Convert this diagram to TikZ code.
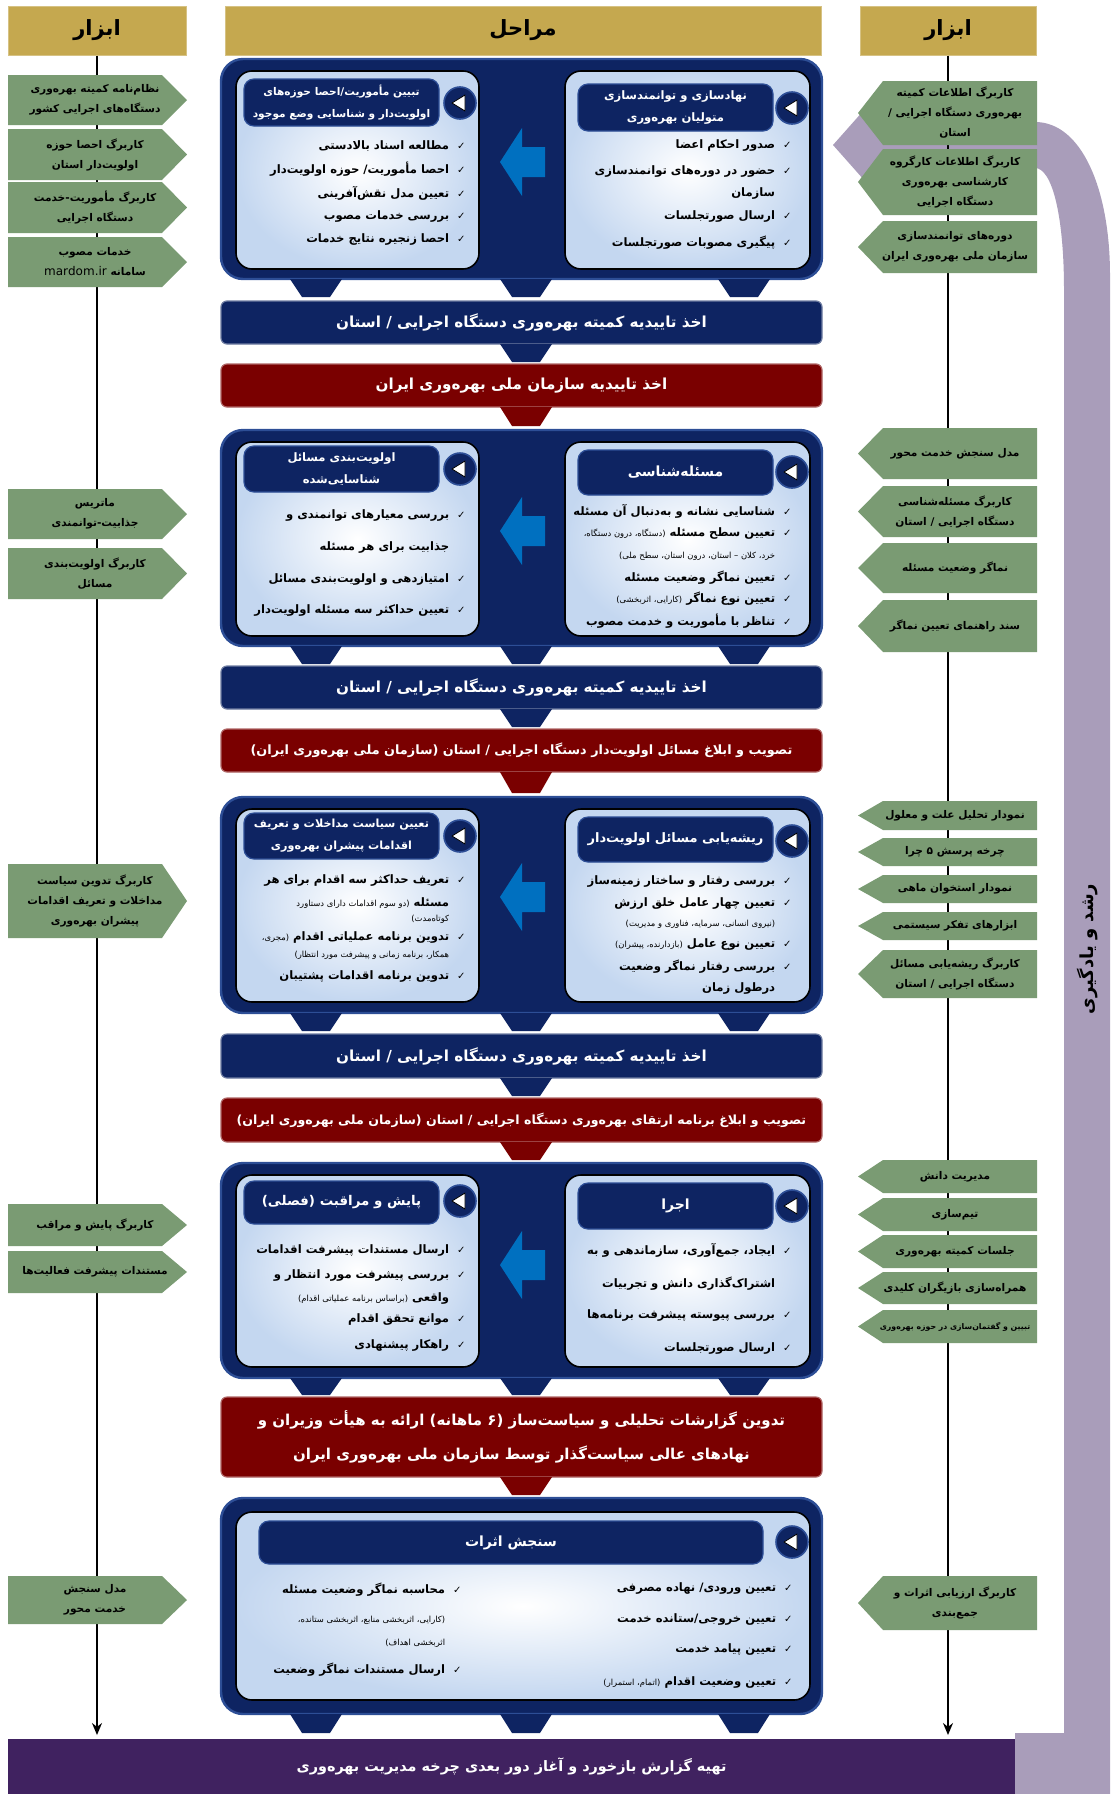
\documentclass[tikz,border=0pt]{standalone}
\usepackage{fontspec}
\usetikzlibrary{calc,arrows.meta}
\newfontfamily\arabicfont[Script=Arabic]{DejaVu Sans}
\TeXXeTstate=1
\definecolor{cGold}{RGB}{197,168,79}
\definecolor{cSage}{RGB}{122,155,115}
\definecolor{cNavy}{RGB}{14,36,98}
\definecolor{cRim}{RGB}{45,78,150}
\definecolor{cRed}{RGB}{122,0,0}
\definecolor{cBlue}{RGB}{0,112,192}
\definecolor{cLBlue}{RGB}{196,215,240}
\definecolor{cLPurple}{RGB}{169,157,186}
\definecolor{cDPurple}{RGB}{64,34,96}
\newcommand\fa[1]{\beginR#1\endR}
\newcommand\chk{{\mdseries\fontsize{5}{6}\selectfont ✓}\ \ }
\newcommand\ind{\hphantom{\chk}}
\newcommand\sm[1]{{\mdseries\fontsize{4.2}{5}\selectfont #1}}
\newcommand\itm[4]{\node[item] (#1) at (#2,#3) {#4};}
\newcommand\toolL[4]{\fill[cSage] (8,#2) -- (162,#2) -- (187,{(#2+#3)/2}) -- (162,#3) -- (8,#3) -- cycle;
  \node[tooltxt] (#1) at (95,{(#2+#3)/2}) {#4};}
\newcommand\toolR[4]{\fill[cSage] (1037,#2) -- (883,#2) -- (858,{(#2+#3)/2}) -- (883,#3) -- (1037,#3) -- cycle;
  \node[tooltxt] (#1) at (955,{(#2+#3)/2}) {#4};}
\newcommand\stageblk[3]{\draw[cRim, line width=1.2pt, fill=cNavy, rounded corners=11pt] (221,#2) rectangle (822,#3);
  \coordinate (#1) at (521.5,#2);}
\newcommand\ibox[4]{\shade[draw=black, line width=0.8pt, rounded corners=8pt, inner color=white, outer color=cLBlue] (#1,#2) rectangle (#3,#4);}
\newcommand\tbox[7]{\draw[fill=cNavy, draw=cRim, line width=0.6pt, rounded corners=5pt] (#2,#3) rectangle (#4,#5);
  \node[ttl, font=\arabicfont\bfseries\fontsize{#6}{11}\selectfont] (#1) at ({(#2+#4)/2},{(#3+#5)/2}) {#7};}
\newcommand\pbtn[3]{\node[circle, fill=cNavy, draw=cRim, line width=0.8pt, minimum size=16pt, inner sep=0pt] (#1) at (#2,#3) {};
  \draw[fill=white, draw=black, line width=0.4pt, line join=round] ($(#1)+(-8,0)$) -- ($(#1)+(5,-8)$) -- ($(#1)+(5,8)$) -- cycle;}
\newcommand\barr[6]{\draw[fill=#4, draw=#4!60!white, line width=0.6pt, rounded corners=3pt] (221,#2) rectangle (822,#3);
  \node[bartxt, font=\arabicfont\bfseries\fontsize{#5}{17}\selectfont] (#1) at (521.5,{(#2+#3)/2}) {#6};}
\newcommand\tabd[4]{\fill[#4] ({#1-26},#2) -- ({#1+26},#2) -- ({#1+14},#3) -- ({#1-14},#3) -- cycle;}
\newcommand\barrow[1]{\fill[cBlue] (500,#1) -- (522,{#1-34}) -- (522,{#1-15}) -- (545,{#1-15}) -- (545,{#1+15}) -- (522,{#1+15}) -- (522,{#1+34}) -- cycle;}
\begin{document}
\begin{tikzpicture}[x=0.5pt,y=-0.5pt,
  tooltxt/.style={font=\arabicfont\bfseries\fontsize{5.3}{10}\selectfont, align=center, inner sep=0pt, text=black},
  item/.style={font=\arabicfont\bfseries\fontsize{5.8}{7}\selectfont, anchor=east, inner sep=0pt, text=black},
  ttl/.style={text=white, align=center, inner sep=0pt},
  bartxt/.style={text=white, align=center, inner sep=0pt},
  hdr/.style={fill=cGold, draw=cGold!70!white, line width=0.5pt, minimum height=24.5pt, inner sep=0pt, font=\arabicfont\bfseries\fontsize{10.5}{12}\selectfont, text=black},
  growtxt/.style={rotate=90, font=\arabicfont\bfseries\fontsize{9}{10}\selectfont, text=black, inner sep=0pt}]
\useasboundingbox (0,0) rectangle (1113,1794);
% learning band
\fill[cLPurple] (833,145) -- (872,101) -- (872,122) -- (1035,122) .. controls (1082,122) and (1110,190) .. (1110,275) -- (1110,1794) -- (1015,1794) -- (1015,1733) -- (1064,1733) -- (1064,290) .. controls (1064,215) and (1052,168) .. (1035,168) -- (872,168) -- (872,189) -- cycle;
\node[growtxt] (grow) at (1087,949) {\fa{رشد و یادگیری}};
% headers
\node[hdr, minimum width=89pt] (hL) at (97,30.5) {\fa{ابزار}};
\node[hdr, minimum width=298pt] (hC) at (523,30.5) {\fa{مراحل}};
\node[hdr, minimum width=88pt] (hR) at (948,30.5) {\fa{ابزار}};
\coordinate (eL) at (97,1735);
\coordinate (eR) at (948,1735);
\draw[line width=0.8pt, -{Stealth[length=6pt,width=5pt]}] (hL.south) -- (eL);
\draw[line width=0.8pt, -{Stealth[length=6pt,width=5pt]}] (hR.south) -- (eR);
% left tools
\toolL{L1}{75}{125}{\fa{نظام‌نامه کمیته بهره‌وری}\\\fa{دستگاه‌های اجرایی کشور}}
\toolL{L2}{129}{180}{\fa{کاربرگ احصا حوزه}\\\fa{اولویت‌دار استان}}
\toolL{L3}{182}{233}{\fa{کاربرگ مأموریت-خدمت}\\\fa{دستگاه اجرایی}}
\toolL{L4}{237}{287}{\fa{خدمات مصوب}\\\fa{سامانه\ \beginL{\mdseries\fontsize{6}{7}\selectfont mardom.ir}\endL}}
\toolL{L5}{489}{539}{\fa{ماتریس}\\\fa{جذابیت-توانمندی}}
\toolL{L6}{548}{599}{\fa{کاربرگ اولویت‌بندی}\\\fa{مسائل}}
\toolL{L7}{864}{938}{\fa{کاربرگ تدوین سیاست}\\\fa{مداخلات و تعریف اقدامات}\\\fa{پیشران بهره‌وری}}
\toolL{L8}{1204}{1246}{\fa{کاربرگ پایش و مراقب}}
\toolL{L9}{1251}{1293}{\fa{مستندات پیشرفت فعالیت‌ها}}
\toolL{L10}{1576}{1624}{\fa{مدل سنجش}\\\fa{خدمت محور}}
% right tools
\toolR{R1}{81}{145}{\fa{کاربرگ اطلاعات کمیته}\\\fa{بهره‌وری دستگاه اجرایی /}\\\fa{استان}}
\toolR{R2}{149}{215}{\fa{کاربرگ اطلاعات کارگروه}\\\fa{کارشناسی بهره‌وری}\\\fa{دستگاه اجرایی}}
\toolR{R3}{221}{273}{\fa{دوره‌های توانمندسازی}\\\fa{سازمان ملی بهره‌وری ایران}}
\toolR{R4}{428}{479}{\fa{مدل سنجش خدمت محور}}
\toolR{R5}{486}{537}{\fa{کاربرگ مسئله‌شناسی}\\\fa{دستگاه اجرایی / استان}}
\toolR{R6}{543}{593}{\fa{نماگر وضعیت مسئله}}
\toolR{R7}{600}{652}{\fa{سند راهنمای تعیین نماگر}}
\toolR{R8}{801}{830}{\fa{نمودار تحلیل علت و معلول}}
\toolR{R9}{838}{866}{\fa{چرخه پرسش ۵ چرا}}
\toolR{R10}{875}{903}{\fa{نمودار استخوان ماهی}}
\toolR{R11}{912}{940}{\fa{ابزارهای تفکر سیستمی}}
\toolR{R12}{950}{998}{\fa{کاربرگ ریشه‌یابی مسائل}\\\fa{دستگاه اجرایی / استان}}
\toolR{R13}{1160}{1193}{\fa{مدیریت دانش}}
\toolR{R14}{1198}{1231}{\fa{تیم‌سازی}}
\toolR{R15}{1235}{1268}{\fa{جلسات کمیته بهره‌وری}}
\toolR{R16}{1272}{1304}{\fa{همراه‌سازی بازیگران کلیدی}}
\toolR{R17}{1310}{1343}{\fontsize{3.9}{6}\selectfont\fa{تبیین و گفتمان‌سازی در حوزه بهره‌وری}}
\toolR{R18}{1576}{1630}{\fa{کاربرگ ارزیابی اثرات و}\\\fa{جمع‌بندی}}
% ===== stage 1
\stageblk{S1}{59}{279}
\ibox{565}{71}{810}{269}
\ibox{236}{71}{479}{269}
\tbox{T1r}{578}{84}{773}{131}{5.8}{\fa{نهادسازی و توانمندسازی}\\\fa{متولیان بهره‌وری}}
\pbtn{P1r}{792}{108}
\tbox{T1l}{244}{79}{439}{126}{5.3}{\fa{تبیین مأموریت/احصا حوزه‌های}\\\fa{اولویت‌دار و شناسایی وضع موجود}}
\pbtn{P1l}{460}{103}
\barrow{162}
\itm{a1}{792}{146}{\fa{\chk صدور احکام اعضا}}
\itm{a2}{792}{172}{\fa{\chk حضور در دوره‌های توانمندسازی}}
\itm{a3}{792}{194}{\fa{\ind سازمان}}
\itm{a4}{792}{217}{\fa{\chk ارسال صورتجلسات}}
\itm{a5}{792}{243}{\fa{\chk پیگیری مصوبات صورتجلسات}}
\itm{b1}{466}{146}{\fa{\chk مطالعه اسناد بالادستی}}
\itm{b2}{466}{169}{\fa{\chk احصا مأموریت/ حوزه اولویت‌دار}}
\itm{b3}{466}{193}{\fa{\chk تعیین مدل نقش‌آفرینی}}
\itm{b4}{466}{217}{\fa{\chk بررسی خدمات مصوب}}
\itm{b5}{466}{240}{\fa{\chk احصا زنجیره نتایج خدمات}}
\tabd{316}{279}{297}{cNavy}\tabd{526}{279}{297}{cNavy}\tabd{744}{279}{297}{cNavy}
\barr{B1}{301}{344}{cNavy}{7.6}{\fa{اخذ تاییدیه کمیته بهره‌وری دستگاه اجرایی / استان}}
\tabd{526}{344}{362}{cNavy}
\barr{B2}{364}{407}{cRed}{7.6}{\fa{اخذ تاییدیه سازمان ملی بهره‌وری ایران}}
\tabd{526}{407}{426}{cRed}
% ===== stage 2
\stageblk{S2}{430}{646}
\ibox{565}{442}{810}{636}
\ibox{236}{442}{479}{636}
\tbox{T2r}{578}{450}{773}{495}{7}{\fa{مسئله‌شناسی}}
\pbtn{P2r}{792}{472}
\tbox{T2l}{244}{446}{439}{492}{5.8}{\fa{اولویت‌بندی مسائل}\\\fa{شناسایی‌شده}}
\pbtn{P2l}{460}{469}
\barrow{531}
\itm{c1}{792}{511}{\fa{\chk شناسایی نشانه و به‌دنبال آن مسئله}}
\itm{c2}{792}{534}{\fa{\chk تعیین سطح مسئله \sm{(دستگاه، درون دستگاه،}}}
\itm{c3}{792}{556}{\fa{\ind\sm{خرد، کلان – استان، درون استان، سطح ملی)}}}
\itm{c4}{792}{578}{\fa{\chk تعیین نماگر وضعیت مسئله}}
\itm{c5}{792}{599}{\fa{\chk تعیین نوع نماگر \sm{(کارایی، اثربخشی)}}}
\itm{c6}{792}{621}{\fa{\chk تناظر با مأموریت و خدمت مصوب}}
\itm{d1}{466}{516}{\fa{\chk بررسی معیارهای توانمندی و}}
\itm{d2}{466}{548}{\fa{\ind جذابیت برای هر مسئله}}
\itm{d3}{466}{580}{\fa{\chk امتیازدهی و اولویت‌بندی مسائل}}
\itm{d4}{466}{611}{\fa{\chk تعیین حداکثر سه مسئله اولویت‌دار}}
\tabd{316}{646}{664}{cNavy}\tabd{526}{646}{664}{cNavy}\tabd{744}{646}{664}{cNavy}
\barr{B3}{666}{709}{cNavy}{7.6}{\fa{اخذ تاییدیه کمیته بهره‌وری دستگاه اجرایی / استان}}
\tabd{526}{709}{727}{cNavy}
\barr{B4}{729}{772}{cRed}{6.4}{\fa{تصویب و ابلاغ مسائل اولویت‌دار دستگاه اجرایی / استان (سازمان ملی بهره‌وری ایران)}}
\tabd{526}{772}{793}{cRed}
% ===== stage 3
\stageblk{S3}{797}{1013}
\ibox{565}{809}{810}{1002}
\ibox{236}{809}{479}{1002}
\tbox{T3r}{578}{817}{773}{862}{6.5}{\fa{ریشه‌یابی مسائل اولویت‌دار}}
\pbtn{P3r}{792}{841}
\tbox{T3l}{244}{813}{439}{859}{5.6}{\fa{تعیین سیاست مداخلات و تعریف}\\\fa{اقدامات پیشران بهره‌وری}}
\pbtn{P3l}{460}{836}
\barrow{897}
\itm{e1}{792}{881}{\fa{\chk بررسی رفتار و ساختار زمینه‌ساز}}
\itm{e2}{792}{904}{\fa{\chk تعیین چهار عامل خلق ارزش}}
\itm{e3}{792}{924}{\fa{\ind\sm{(نیروی انسانی، سرمایه، فناوری و مدیریت)}}}
\itm{e4}{792}{944}{\fa{\chk تعیین نوع عامل \sm{(بازدارنده، پیشران)}}}
\itm{e5}{792}{967}{\fa{\chk بررسی رفتار نماگر وضعیت}}
\itm{e6}{792}{988}{\fa{\ind درطول زمان}}
\itm{f1}{466}{880}{\fa{\chk تعریف حداکثر سه اقدام برای هر}}
\itm{f2}{466}{903}{\fa{\ind مسئله \sm{(دو سوم اقدامات دارای دستاورد}}}
\itm{f3}{466}{919}{\fa{\ind\sm{کوتاه‌مدت)}}}
\itm{f4}{466}{937}{\fa{\chk تدوین برنامه عملیاتی اقدام \sm{(مجری،}}}
\itm{f5}{466}{955}{\fa{\ind\sm{همکار، برنامه زمانی و پیشرفت مورد انتظار)}}}
\itm{f6}{466}{976}{\fa{\chk تدوین برنامه اقدامات پشتیبان}}
\tabd{316}{1013}{1031}{cNavy}\tabd{526}{1013}{1031}{cNavy}\tabd{744}{1013}{1031}{cNavy}
\barr{B5}{1034}{1078}{cNavy}{7.6}{\fa{اخذ تاییدیه کمیته بهره‌وری دستگاه اجرایی / استان}}
\tabd{526}{1078}{1096}{cNavy}
\barr{B6}{1098}{1142}{cRed}{6.3}{\fa{تصویب و ابلاغ برنامه ارتقای بهره‌وری دستگاه اجرایی / استان (سازمان ملی بهره‌وری ایران)}}
\tabd{526}{1142}{1160}{cRed}
% ===== stage 4
\stageblk{S4}{1163}{1378}
\ibox{565}{1175}{810}{1367}
\ibox{236}{1175}{479}{1367}
\tbox{T4r}{578}{1183}{773}{1229}{7}{\fa{اجرا}}
\pbtn{P4r}{792}{1206}
\tbox{T4l}{244}{1181}{439}{1224}{6.7}{\fa{پایش و مراقبت (فصلی)}}
\pbtn{P4l}{460}{1201}
\barrow{1265}
\itm{g1}{792}{1250}{\fa{\chk ایجاد، جمع‌آوری، سازماندهی و به}}
\itm{g2}{792}{1284}{\fa{\ind اشتراک‌گذاری دانش و تجربیات}}
\itm{g3}{792}{1315}{\fa{\chk بررسی پیوسته پیشرفت برنامه‌ها}}
\itm{g4}{792}{1348}{\fa{\chk ارسال صورتجلسات}}
\itm{h1}{466}{1250}{\fa{\chk ارسال مستندات پیشرفت اقدامات}}
\itm{h2}{466}{1275}{\fa{\chk بررسی پیشرفت مورد انتظار و}}
\itm{h3}{466}{1298}{\fa{\ind واقعی \sm{(براساس برنامه عملیاتی اقدام)}}}
\itm{h4}{466}{1320}{\fa{\chk موانع تحقق اقدام}}
\itm{h5}{466}{1345}{\fa{\chk راهکار پیشنهادی}}
\tabd{316}{1378}{1395}{cNavy}\tabd{526}{1378}{1395}{cNavy}\tabd{744}{1378}{1395}{cNavy}
\barr{B7}{1397}{1477}{cRed}{7.5}{\fa{تدوین گزارشات تحلیلی و سیاست‌ساز (^^^^200f۶ ماهانه) ارائه به هیأت وزیران و}\\\fa{نهادهای عالی سیاست‌گذار توسط سازمان ملی بهره‌وری ایران}}
\tabd{526}{1477}{1495}{cRed}
% ===== stage 5
\stageblk{S5}{1498}{1714}
\ibox{236}{1512}{810}{1700}
\tbox{T5}{259}{1521}{763}{1564}{7}{\fa{سنجش اثرات}}
\pbtn{P5}{792}{1542}
\itm{i1}{793}{1588}{\fa{\chk تعیین ورودی/ نهاده مصرفی}}
\itm{i2}{793}{1619}{\fa{\chk تعیین خروجی/ستانده خدمت}}
\itm{i3}{793}{1649}{\fa{\chk تعیین پیامد خدمت}}
\itm{i4}{793}{1682}{\fa{\chk تعیین وضعیت اقدام \sm{(اتمام، استمرار)}}}
\itm{j1}{462}{1590}{\fa{\chk محاسبه نماگر وضعیت مسئله}}
\itm{j2}{462}{1620}{\fa{\ind\sm{(کارایی، اثربخشی منابع، اثربخشی ستانده،}}}
\itm{j3}{462}{1643}{\fa{\ind\sm{اثربخشی اهداف)}}}
\itm{j4}{462}{1670}{\fa{\chk ارسال مستندات نماگر وضعیت}}
\tabd{316}{1714}{1733}{cNavy}\tabd{526}{1714}{1733}{cNavy}\tabd{744}{1714}{1733}{cNavy}
% final bar
\fill[cDPurple] (8,1739) rectangle (1015,1794);
\node[bartxt, font=\arabicfont\bfseries\fontsize{7.2}{12}\selectfont] (FB) at (511.5,1766) {\fa{تهیه گزارش بازخورد و آغاز دور بعدی چرخه مدیریت بهره‌وری}};
\end{tikzpicture}
\end{document}
